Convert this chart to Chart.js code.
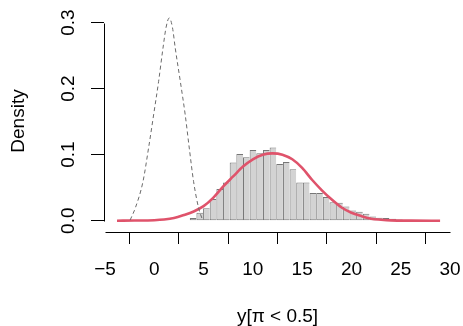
<!DOCTYPE html>
<html>
<head>
<meta charset="utf-8">
<script src="https://cdn.jsdelivr.net/npm/chart.js@4/dist/chart.umd.min.js"></script>
<style>
  html, body { margin: 0; padding: 0; background: #fff; }
  canvas { display: block; }
</style>
</head>
<body>
<canvas id="histChart" width="463" height="326"></canvas>
<script>
// histogram: first break and bin width, then density of each bin
var binStart = 3.6;
var binWidth = 0.675;
var histDensity = [0.004, 0.012, 0.019, 0.033, 0.048, 0.058, 0.088, 0.101, 0.096, 0.107,
    0.102, 0.107, 0.111, 0.086, 0.089, 0.078, 0.058, 0.058, 0.042, 0.042,
    0.036, 0.028, 0.027, 0.0215, 0.0155, 0.0136, 0.0105, 0.0065, 0.0045, 0.004,
    0.003, 0.002];

// red curve
var redX = [-3.78, -2, 0, 1, 2, 3, 4, 5, 6, 7, 8, 9, 10, 11, 12, 13, 14, 15, 16, 17, 18, 19, 20, 21, 22, 23, 24, 26, 28.99];
var redY = [0, 0.0002, 0.0008, 0.0018, 0.004, 0.0085, 0.014, 0.022, 0.035, 0.052, 0.067, 0.082, 0.093, 0.100, 0.102, 0.100, 0.093, 0.080, 0.062, 0.046, 0.032, 0.020, 0.012, 0.007, 0.003, 0.0015, 0.0005, 0.0001, 0];

// dashed grey curve
var dashX = [-2.45, -1.93, -1.15, -0.58, -0.07, 0.44, 0.88, 1.2, 1.52, 1.85, 2.13, 2.64, 3.14, 3.55, 3.99, 4.5, 4.9];
var dashY = [0.001, 0.019, 0.059, 0.110, 0.160, 0.211, 0.261, 0.293, 0.307, 0.292, 0.261, 0.211, 0.160, 0.110, 0.059, 0.019, 0.001];

var xTicks = [-5, 0, 5, 10, 15, 20, 25, 30];
var yTicks = [0, 0.1, 0.2, 0.3];
var yTickLabels = ["0.0", "0.1", "0.2", "0.3"];

function toPoints(xs, ys) {
    var pts = [];
    for (var i = 0; i < xs.length; i++) {
        pts.push({ x: xs[i], y: ys[i] });
    }
    return pts;
}

var histPoints = [];
histDensity.forEach(function(d, i) {
    histPoints.push({ x: binStart + binWidth * (i + 0.5), y: d });
});

var FONT = "'Liberation Sans', Arial, Helvetica, sans-serif";

// R style axes: lines only between first and last tick, rotated y labels
var rAxes = {
    id: 'rAxes',
    afterDraw: function(chart) {
        var c = chart.ctx;
        var xs = chart.scales.x, ys = chart.scales.y;
        var area = chart.chartArea;
        c.save();
        c.strokeStyle = '#000';
        c.lineWidth = 1;
        // x axis line
        var yb = Math.round(area.bottom) + 0.5;
        c.beginPath();
        c.moveTo(Math.round(xs.getPixelForValue(xTicks[0])) + 0.5, yb);
        c.lineTo(Math.round(xs.getPixelForValue(xTicks[xTicks.length - 1])) + 0.5, yb);
        c.stroke();
        // y axis line
        var xl = Math.round(area.left) + 0.5;
        c.beginPath();
        c.moveTo(xl, Math.round(ys.getPixelForValue(yTicks[0])) + 0.5);
        c.lineTo(xl, Math.round(ys.getPixelForValue(yTicks[yTicks.length - 1])) + 0.5);
        c.stroke();
        // y tick labels
        c.fillStyle = '#000';
        c.font = '19px ' + FONT;
        c.textAlign = 'center';
        c.textBaseline = 'middle';
        yTicks.forEach(function(v, i) {
            c.save();
            c.translate(69, ys.getPixelForValue(v));
            c.rotate(-Math.PI / 2);
            c.fillText(yTickLabels[i], 0, 0);
            c.restore();
        });
        // y title
        c.save();
        c.translate(19, (area.top + area.bottom) / 2);
        c.rotate(-Math.PI / 2);
        c.fillText('Density', 0, 0);
        c.restore();
        // x title
        var xc = (xs.getPixelForValue(xTicks[0]) + xs.getPixelForValue(xTicks[xTicks.length - 1])) / 2;
        c.fillText('y[\u03c0 < 0.5]', xc, 317);
        c.restore();
    }
};

var ctx = document.getElementById('histChart');
var chart = new Chart(ctx, {
    type: 'bar',
    data: {
        datasets: [{
            type: 'line',
            label: 'dashed',
            data: toPoints(dashX, dashY),
            borderColor: '#6a6a6a',
            borderWidth: 1,
            borderDash: [4, 3],
            pointRadius: 0,
            fill: false,
            cubicInterpolationMode: 'monotone',
            order: 1
        }, {
            type: 'line',
            label: 'red',
            data: toPoints(redX, redY),
            borderColor: '#DF536B',
            borderWidth: 2.6,
            pointRadius: 0,
            fill: false,
            cubicInterpolationMode: 'monotone',
            order: 2
        }, {
            type: 'bar',
            label: 'hist',
            data: histPoints,
            backgroundColor: '#d3d3d3',
            borderColor: '#777777',
            borderWidth: { left: 1, top: 1, right: 0, bottom: 1 },
            borderSkipped: false,
            barPercentage: 1,
            categoryPercentage: 1,
            inflateAmount: 0,
            order: 3
        }]
    },
    options: {
        responsive: false,
        animation: false,
        devicePixelRatio: 1,
        layout: { padding: { top: 10, right: 10, left: 0, bottom: 0 } },
        plugins: {
            legend: { display: false },
            tooltip: { enabled: false }
        },
        scales: {
            x: {
                type: 'linear',
                min: -5.1,
                max: 30.3,
                offset: false,
                afterBuildTicks: function(s) {
                    s.ticks = xTicks.map(function(v) { return { value: v }; });
                },
                afterFit: function(s) {
                    s.height = 94;
                    s.paddingLeft = 0;
                    s.paddingRight = 0;
                },
                border: { display: false },
                grid: {
                    display: true,
                    drawOnChartArea: false,
                    drawTicks: true,
                    tickLength: 12,
                    color: '#000',
                    lineWidth: 1
                },
                ticks: {
                    autoSkip: false,
                    maxRotation: 0,
                    padding: 14,
                    color: '#000',
                    font: { family: FONT, size: 19 },
                    callback: function(v) { return v < 0 ? '\u2212' + Math.abs(v) : String(v); }
                }
            },
            y: {
                type: 'linear',
                min: -0.0171,
                max: 0.319,
                afterBuildTicks: function(s) {
                    s.ticks = yTicks.map(function(v) { return { value: v }; });
                },
                afterFit: function(s) {
                    s.width = 104;
                    s.paddingTop = 0;
                    s.paddingBottom = 0;
                },
                border: { display: false },
                grid: {
                    display: true,
                    drawOnChartArea: false,
                    drawTicks: true,
                    tickLength: 13,
                    color: '#000',
                    lineWidth: 1
                },
                ticks: { display: false }
            }
        }
    },
    plugins: [rAxes]
});
</script>
</body>
</html>
